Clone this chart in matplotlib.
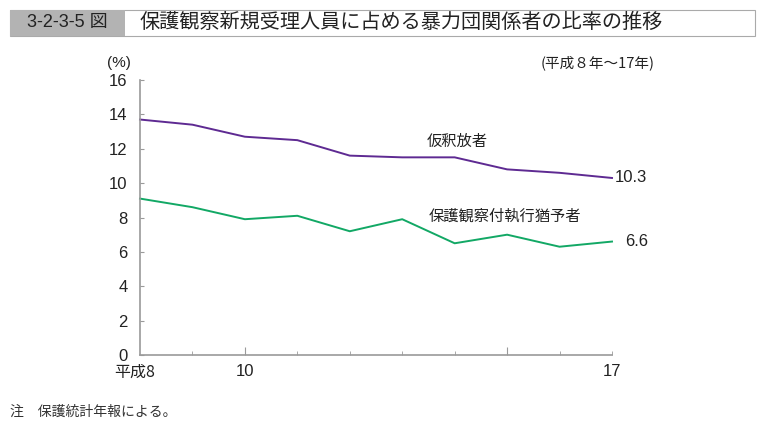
import matplotlib
matplotlib.use("Agg")
import matplotlib.pyplot as plt
from matplotlib.patches import Rectangle
from matplotlib.ticker import FixedLocator

plt.rcParams['font.family'] = ['Noto Sans CJK JP', 'DejaVu Sans']

years = [8, 9, 10, 11, 12, 13, 14, 15, 16, 17]
parole = [13.7, 13.4, 12.7, 12.5, 11.6, 11.5, 11.5, 10.8, 10.6, 10.3]
probation = [9.1, 8.6, 7.9, 8.1, 7.2, 7.9, 6.5, 7.0, 6.3, 6.6]
xtick_vals = [8, 10, 17]
xtick_labels = ['平成8', '10', '17']
ytick_vals = [0, 2, 4, 6, 8, 10, 12, 14, 16]

purple = '#5E2A92'
green = '#12A865'
axc = '#9A9A9A'

fig = plt.figure(figsize=(7.64, 4.30), dpi=100)

# Title bar
fig.patches.append(Rectangle((10/764, 1-36/430), 745/764, 26/430, transform=fig.transFigure,
                             facecolor='white', edgecolor='#aaaaaa', lw=0.8))
fig.patches.append(Rectangle((10/764, 1-36/430), 115/764, 26/430, transform=fig.transFigure,
                             facecolor='#b3b3b3', edgecolor='none'))
fig.text(67/764, 1-23/430, '3-2-3-5 図', ha='center', va='center', fontsize=13, color='#222222',
         family=['Liberation Sans', 'Noto Sans CJK JP'])
fig.text(140/764, 1-22/430, '保護観察新規受理人員に占める暴力団関係者の比率の推移', ha='left', va='center',
         fontsize=14.5, color='#222222')

ax = fig.add_axes([140/764, 1-355/430, 472/764, 275/430])
ax.plot(years, parole, color=purple, lw=1.4, clip_on=False)
ax.plot(years, probation, color=green, lw=1.4, clip_on=False)

ax.set_xlim(8, 17)
ax.set_ylim(0, 16)
for s in ['top', 'right']:
    ax.spines[s].set_visible(False)
for s in ['left', 'bottom']:
    ax.spines[s].set_color(axc)
    ax.spines[s].set_linewidth(1.2)

ax.set_yticks(ytick_vals)
ax.set_yticklabels([str(v) for v in ytick_vals], family=['Liberation Sans'], fontsize=12, color='#222222')
ax.tick_params(axis='y', direction='in', length=3, color=axc, pad=9)

ax.set_xticks([10, 15])
ax.set_xticklabels([])
ax.xaxis.set_minor_locator(FixedLocator([9, 11, 12, 13, 14, 16, 17]))
ax.tick_params(axis='x', which='major', direction='in', length=6, color=axc)
ax.tick_params(axis='x', which='minor', direction='in', length=3, color=axc)

lab_y = -0.032
ax.text(7.9, lab_y, xtick_labels[0], transform=ax.get_xaxis_transform(), ha='center', va='top',
        fontsize=11.5, color='#222222', family=['Noto Sans CJK JP'])
ax.text(10, lab_y, xtick_labels[1], transform=ax.get_xaxis_transform(), ha='center', va='top',
        fontsize=12, color='#222222', family=['Liberation Sans'])
ax.text(17, lab_y, xtick_labels[2], transform=ax.get_xaxis_transform(), ha='center', va='top',
        fontsize=12, color='#222222', family=['Liberation Sans'])

ax.text(7.6, 16.6, '(%)', ha='center', va='bottom', fontsize=11, color='#222222',
        family=['Liberation Sans'])
fig.text(655/764, 1-63/430, '(平成８年～17年)', ha='right', va='center', fontsize=10.5, color='#222222')

ax.text(17.05, parole[-1], '10.3', ha='left', va='center', fontsize=12, color='#222222',
        family=['Liberation Sans'])
ax.text(17.25, probation[-1], '6.6', ha='left', va='center', fontsize=12, color='#222222',
        family=['Liberation Sans'])
ax.text(14.05, 12.4, '仮釈放者', ha='center', va='center', fontsize=11, color='#222222')
ax.text(13.5, 8.1, '保護観察付執行猶予者', ha='left', va='center', fontsize=11, color='#222222')

fig.text(10/764, 1-412/430, '注　保護統計年報による。', ha='left', va='center', fontsize=10, color='#333333')

fig.savefig('out.png', dpi=100)
